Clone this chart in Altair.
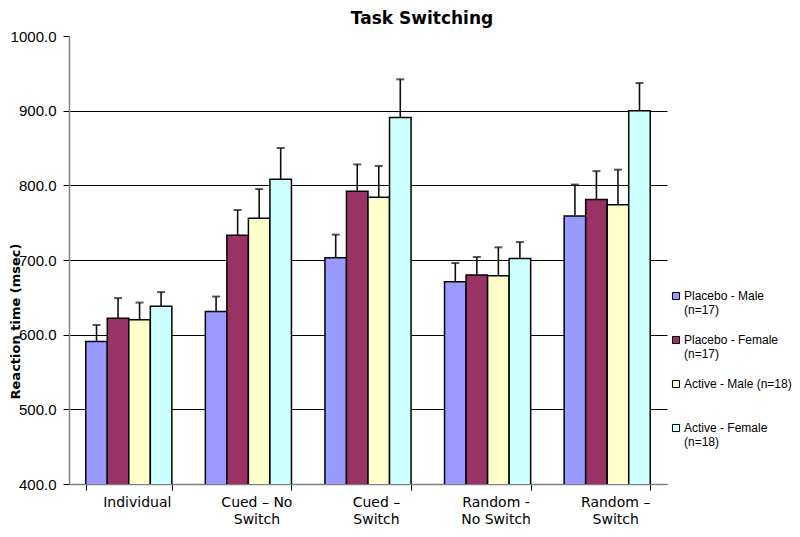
import altair as alt
import pandas as pd

categories = ["Individual", "Cued – No\nSwitch", "Cued –\nSwitch", "Random  -\nNo Switch", "Random –\nSwitch"]
series = ["Placebo - Male\n(n=17)", "Placebo - Female\n(n=17)", "Active - Male (n=18)\n ", "Active - Female\n(n=18)"]
colors = ["#9999FF", "#993366", "#FFFFCC", "#CCFFFF"]

# mean reaction time per category, one list per series
placebo_male = [591, 631, 703, 671, 759]
placebo_female = [622, 733, 792, 680, 781]
active_male = [620, 756, 784, 679, 774]
active_female = [638, 808, 891, 702, 900]
# upper end of error bars
placebo_male_err = [613, 651, 734, 696, 801]
placebo_female_err = [649, 767, 828, 704, 819]
active_male_err = [643, 795, 826, 717, 821]
active_female_err = [657, 850, 942, 724, 937]

means = [placebo_male, placebo_female, active_male, active_female]
errs = [placebo_male_err, placebo_female_err, active_male_err, active_female_err]

rows = []
for s, m, e in zip(series, means, errs):
    for c, mv, ev in zip(categories, m, e):
        rows.append({"category": c, "series": s, "mean": mv, "err": ev})
df = pd.DataFrame(rows)

FONT = "DejaVu Sans"
LFONT = "Liberation Sans"

x_enc = alt.X(
    "category:N",
    sort=categories,
    scale=alt.Scale(paddingInner=0.28, paddingOuter=0.14),
    axis=alt.Axis(
        title=None,
        labelAngle=0,
        labelExpr="split(datum.label, '\\n')",
        labelFont=FONT,
        labelFontSize=14,
        labelColor="#000000",
        labelLineHeight=17,
        labelPadding=5,
        labelOffset=8,
        labelBaseline="top",
        tickBand="extent",
        tickSize=6,
        tickColor="#000000",
        domainColor="#808080",
        domainWidth=1.5,
    ),
)
xoff = alt.XOffset("series:N", sort=series, scale=alt.Scale(paddingInner=0, paddingOuter=0))

y_scale = alt.Scale(domain=[400, 1000], zero=False, nice=False)

bars = alt.Chart(df).mark_bar(stroke="#000000", strokeWidth=1.5, clip=True).encode(
    x=x_enc,
    xOffset=xoff,
    y=alt.Y(
        "mean:Q",
        scale=y_scale,
        axis=alt.Axis(
            title="Reaction time (msec)",
            values=[400, 500, 600, 700, 800, 900, 1000],
            format=".1f",
            labelFont=LFONT,
            labelFontSize=15,
            labelColor="#000000",
            labelPadding=7,
            tickSize=6,
            tickColor="#000000",
            domainColor="#808080",
            domainWidth=1.5,
            grid=True,
            gridColor="#000000",
            gridWidth=1,
            gridOpacity={"condition": {"test": "datum.value >= 1000", "value": 0}, "value": 1},
            titleFont=FONT,
            titleFontSize=13,
            titleFontWeight="bold",
            titleColor="#000000",
            titleAngle=270,
            titleX=-54,
            titleY=285,
            titleAlign="center",
            titleBaseline="middle",
        ),
    ),
    color=alt.Color(
        "series:N",
        sort=series,
        scale=alt.Scale(domain=series, range=colors),
        legend=alt.Legend(
            title=None,
            orient="none",
            legendX=601,
            legendY=254,
            symbolType="square",
            symbolSize=50,
            symbolStrokeColor="#000000",
            symbolStrokeWidth=1,
            labelFont=LFONT,
            labelFontSize=12,
            labelColor="#000000",
            labelExpr="split(datum.label, '\\n')",
            labelLimit=300,
            labelOffset=2,
            rowPadding=18,
        ),
    ),
)

stems = alt.Chart(df).mark_rule(color="#111111", strokeWidth=1.6).encode(
    x=alt.X("category:N", sort=categories),
    xOffset=xoff,
    y=alt.Y("mean:Q", scale=y_scale),
    y2="err:Q",
)

caps = alt.Chart(df).mark_tick(color="#111111", thickness=2, size=8, orient="horizontal").encode(
    x=alt.X("category:N", sort=categories),
    xOffset=xoff,
    y=alt.Y("err:Q", scale=y_scale),
)

chart = (
    alt.layer(bars, stems, caps)
    .properties(
        width=598,
        height=448,
        autosize=alt.AutoSizeParams(type="none"),
        padding={"left": 61, "top": 28, "right": 125, "bottom": 45},
        title=alt.Title(
            "Task Switching",
            font=FONT,
            fontSize=17,
            fontWeight="bold",
            color="#000000",
            dx=54,
            dy=3,
        ),
    )
    .configure_view(stroke=None)
    .configure_axis(labelOverlap=False)
)

chart.save("out.html", embed_options={"renderer": "svg", "actions": False})
